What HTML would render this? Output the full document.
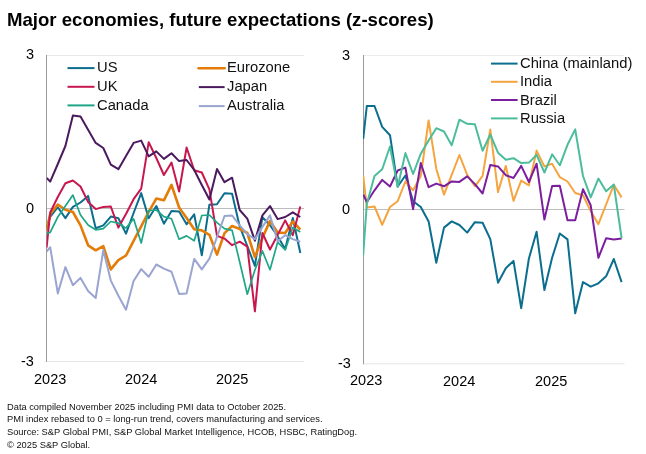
<!DOCTYPE html>
<html><head><meta charset="utf-8">
<style>
html,body{margin:0;padding:0;background:#fff;}
body{width:646px;height:454px;overflow:hidden;position:relative;font-family:"Liberation Sans",sans-serif;color:#000;}
.t{position:absolute;white-space:nowrap;line-height:1;will-change:transform;}
.tt{font-weight:bold;}
.ax{}
.lg{color:#111;}
.fn{color:#111;}
svg{position:absolute;left:0;top:0;}
</style></head><body>
<svg width="646" height="454" viewBox="0 0 646 454">
<defs>
<clipPath id="cl"><rect x="46.5" y="40" width="262" height="330"/></clipPath>
<clipPath id="cr"><rect x="363" y="40" width="262" height="330"/></clipPath>
</defs>
<g fill="none" stroke-linejoin="round" stroke-linecap="butt">
<line x1="46" y1="55.5" x2="304" y2="55.5" stroke="#e8e8e8" stroke-width="1"/>
<line x1="46" y1="208.5" x2="304" y2="208.5" stroke="#bdbdbd" stroke-width="1"/>
<line x1="46" y1="361.5" x2="304" y2="361.5" stroke="#e6e6e6" stroke-width="1"/>
<line x1="46.5" y1="55" x2="46.5" y2="362" stroke="#9a9a9a" stroke-width="1"/>
<line x1="363" y1="55.5" x2="624.5" y2="55.5" stroke="#ececec" stroke-width="1"/>
<line x1="363" y1="209.5" x2="624.5" y2="209.5" stroke="#bdbdbd" stroke-width="1"/>
<line x1="363" y1="363.8" x2="624.5" y2="363.8" stroke="#e6e6e6" stroke-width="1"/>
<line x1="363.5" y1="55" x2="363.5" y2="364.3" stroke="#9a9a9a" stroke-width="1"/>
<g clip-path="url(#cl)">
<polyline points="46.6,228.0 50.2,216.8 57.8,207.2 65.4,218.1 72.9,206.9 80.5,202.5 88.1,195.9 95.7,228.2 103.3,225.4 110.8,216.6 118.4,218.2 126.0,233.6 133.6,213.0 141.2,193.1 148.7,218.2 156.3,206.0 163.9,223.7 171.5,211.1 179.1,211.5 186.6,224.3 194.2,214.3 201.8,255.3 209.4,204.7 217.0,204.2 224.5,193.2 232.1,193.7 239.7,226.4 247.3,246.0 254.9,265.9 262.4,217.1 270.0,225.3 277.6,236.3 285.2,249.0 292.8,218.0 300.3,253.0" stroke="#0b6e8e" stroke-width="2.0"/>
<polyline points="46.6,230.4 50.2,214.0 57.8,204.5 65.4,209.8 72.9,212.0 80.5,225.4 88.1,245.3 95.7,250.3 103.3,246.2 110.8,269.4 118.4,260.1 126.0,255.5 133.6,240.8 141.2,226.3 148.7,211.8 156.3,198.6 163.9,200.3 171.5,184.9 179.1,207.5 186.6,218.0 194.2,229.3 201.8,230.4 209.4,234.8 217.0,254.6 224.5,233.1 232.1,226.0 239.7,229.0 247.3,233.0 254.9,257.0 262.4,238.0 270.0,220.9 277.6,232.5 285.2,233.0 292.8,221.5 300.3,229.7" stroke="#e47c08" stroke-width="2.6"/>
<polyline points="46.6,247.6 50.2,212.5 57.8,197.0 65.4,183.2 72.9,180.5 80.5,186.5 88.1,201.9 95.7,209.1 103.3,206.9 110.8,206.5 118.4,227.6 126.0,214.0 133.6,199.2 141.2,188.7 148.7,142.2 156.3,158.0 163.9,175.0 171.5,162.6 179.1,191.5 186.6,147.5 194.2,170.3 201.8,172.5 209.4,189.3 217.0,235.9 224.5,238.6 232.1,245.2 239.7,241.7 247.3,246.7 254.9,311.3 262.4,233.0 270.0,249.5 277.6,235.0 285.2,220.4 292.8,235.2 300.3,206.6" stroke="#c8174f" stroke-width="2.0"/>
<polyline points="46.8,178.0 50.2,181.6 57.8,164.0 65.4,146.0 72.9,115.5 80.5,116.6 88.1,129.7 95.7,142.9 103.3,148.0 110.8,164.6 118.4,169.2 126.0,156.0 133.6,142.9 141.2,140.6 148.7,156.4 156.3,151.4 163.9,158.9 171.5,153.2 179.1,161.1 186.6,160.0 194.2,170.0 201.8,185.0 209.4,199.5 217.0,168.9 224.5,182.2 232.1,177.7 239.7,210.0 247.3,218.7 254.9,240.7 262.4,215.4 270.0,206.1 277.6,219.1 285.2,217.0 292.8,212.3 300.3,217.0" stroke="#4b1a5e" stroke-width="2.0"/>
<polyline points="46.6,233.7 50.2,232.4 57.8,217.0 65.4,206.0 72.9,195.1 80.5,215.0 88.1,225.0 95.7,229.8 103.3,228.7 110.8,221.5 118.4,223.2 126.0,228.1 133.6,218.8 141.2,243.0 148.7,210.5 156.3,210.0 163.9,216.6 171.5,218.8 179.1,239.2 186.6,235.9 194.2,240.8 201.8,215.5 209.4,215.0 217.0,222.7 224.5,228.7 232.1,230.4 239.7,262.0 247.3,294.2 254.9,270.0 262.4,251.0 270.0,269.7 277.6,242.2 285.2,249.9 292.8,227.5 300.3,231.9" stroke="#1ea688" stroke-width="1.7"/>
<polyline points="46.6,251.5 50.2,247.2 57.8,293.4 65.4,267.1 72.9,285.2 80.5,277.9 88.1,291.1 95.7,298.0 103.3,250.1 110.8,280.6 118.4,295.7 126.0,309.7 133.6,281.0 141.2,269.1 148.7,276.8 156.3,264.5 163.9,268.6 171.5,271.7 179.1,293.9 186.6,293.4 194.2,258.9 201.8,269.4 209.4,258.6 217.0,237.0 224.5,216.0 232.1,215.5 239.7,225.4 247.3,234.1 254.9,239.1 262.4,227.0 270.0,215.4 277.6,241.3 285.2,235.2 292.8,239.1 300.3,241.8" stroke="#9aa4d0" stroke-width="2.0"/>
</g>
<g clip-path="url(#cr)">
<polyline points="363.2,139.0 366.8,106.0 374.5,106.0 382.2,126.9 390.0,135.2 397.7,186.5 405.4,175.5 413.1,201.2 420.8,207.0 428.6,221.4 436.3,262.8 444.0,227.6 451.7,221.4 459.4,225.0 467.2,232.6 474.9,222.2 482.6,222.8 490.3,239.1 498.0,282.7 505.8,268.2 513.5,260.9 521.2,308.2 528.9,258.5 536.6,231.8 544.4,290.1 552.1,257.8 559.8,233.5 567.5,239.4 575.2,313.3 583.0,282.1 590.7,286.7 598.4,283.3 606.1,276.3 613.8,259.0 621.6,282.1" stroke="#0b6e8e" stroke-width="2.0"/>
<polyline points="363.3,176.0 366.8,207.5 374.5,206.5 382.2,224.8 390.0,207.0 397.7,201.2 405.4,181.5 413.1,190.3 420.8,176.0 428.6,120.5 436.3,168.7 444.0,194.6 451.7,174.8 459.4,155.0 467.2,174.8 474.9,186.3 482.6,175.9 490.3,129.5 498.0,192.1 505.8,165.9 513.5,200.9 521.2,180.6 528.9,185.3 536.6,150.6 544.4,166.4 552.1,163.7 559.8,177.1 567.5,181.5 575.2,193.0 583.0,195.2 590.7,211.0 598.4,224.2 606.1,204.5 613.8,184.8 621.6,197.4" stroke="#f6a43f" stroke-width="2.0"/>
<polyline points="363.4,194.6 366.8,202.2 374.5,190.3 382.2,179.9 390.0,186.5 397.7,170.5 405.4,167.6 413.1,209.2 420.8,163.0 428.6,187.2 436.3,183.6 444.0,186.3 451.7,181.4 459.4,181.9 467.2,176.4 474.9,184.1 482.6,193.5 490.3,164.9 498.0,166.4 505.8,175.2 513.5,178.0 521.2,165.9 528.9,182.0 536.6,163.7 544.4,219.6 552.1,186.1 559.8,185.7 567.5,220.3 575.2,220.3 583.0,189.2 590.7,205.3 598.4,257.8 606.1,238.3 613.8,239.4 621.6,238.5" stroke="#7a1f9e" stroke-width="2.0"/>
<polyline points="363.2,255.3 366.8,204.0 374.5,176.0 382.2,169.2 390.0,146.5 397.7,187.0 405.4,153.1 413.1,174.0 420.8,153.7 428.6,140.5 436.3,128.2 444.0,131.5 451.7,145.2 459.4,119.7 467.2,123.8 474.9,124.3 482.6,150.7 490.3,134.5 498.0,152.7 505.8,159.8 513.5,158.2 521.2,163.1 528.9,162.6 536.6,154.9 544.4,172.5 552.1,154.3 559.8,165.3 567.5,144.8 575.2,129.4 583.0,176.0 590.7,197.4 598.4,178.6 606.1,191.2 613.8,184.6 621.6,238.0" stroke="#4cbd9c" stroke-width="2.0"/>
</g>
<line x1="67.5" y1="68.1" x2="94.5" y2="68.1" stroke="#0b6e8e" stroke-width="2"/>
<line x1="67.5" y1="86.8" x2="94.5" y2="86.8" stroke="#c8174f" stroke-width="2"/>
<line x1="67.5" y1="105.4" x2="94.5" y2="105.4" stroke="#1ea688" stroke-width="2"/>
<line x1="198.6" y1="68.2" x2="224.6" y2="68.2" stroke="#e47c08" stroke-width="2.6" stroke-linecap="round"/>
<line x1="198.8" y1="87.1" x2="224.6" y2="87.1" stroke="#4b1a5e" stroke-width="2"/>
<line x1="198.8" y1="106.1" x2="224.6" y2="106.1" stroke="#9aa4d0" stroke-width="2"/>
<line x1="491" y1="63.6" x2="517.6" y2="63.6" stroke="#0b6e8e" stroke-width="2"/>
<line x1="491" y1="81.8" x2="517.6" y2="81.8" stroke="#f6a43f" stroke-width="2"/>
<line x1="491" y1="100" x2="517.6" y2="100" stroke="#7a1f9e" stroke-width="2"/>
<line x1="491" y1="118.4" x2="517.6" y2="118.4" stroke="#4cbd9c" stroke-width="2"/>
</g>
</svg>
<div class="t ax" style="left:26.2px;top:47.33px;font-size:14.5px;">3</div>
<div class="t ax" style="left:26.2px;top:200.63px;font-size:14.5px;">0</div>
<div class="t ax" style="left:21px;top:353.73px;font-size:14.5px;">-3</div>
<div class="t ax" style="left:34.0px;top:372.13px;font-size:14.5px;">2023</div>
<div class="t ax" style="left:124.6px;top:372.23px;font-size:14.5px;">2024</div>
<div class="t ax" style="left:215.6px;top:372.23px;font-size:14.5px;">2025</div>
<div class="t ax" style="left:342.0px;top:47.53px;font-size:14.5px;">3</div>
<div class="t ax" style="left:342.0px;top:202.13px;font-size:14.5px;">0</div>
<div class="t ax" style="left:337.6px;top:356.33px;font-size:14.5px;">-3</div>
<div class="t ax" style="left:350.3px;top:373.03px;font-size:14.5px;">2023</div>
<div class="t ax" style="left:443.0px;top:373.53px;font-size:14.5px;">2024</div>
<div class="t ax" style="left:535.4px;top:373.53px;font-size:14.5px;">2025</div>
<div class="t lg" style="left:96.8px;top:60.11px;font-size:14.75px;">US</div>
<div class="t lg" style="left:96.8px;top:79.11px;font-size:14.75px;">UK</div>
<div class="t lg" style="left:96.8px;top:98.21px;font-size:14.75px;">Canada</div>
<div class="t lg" style="left:227.0px;top:60.11px;font-size:14.75px;">Eurozone</div>
<div class="t lg" style="left:227.0px;top:79.11px;font-size:14.75px;">Japan</div>
<div class="t lg" style="left:227.0px;top:98.21px;font-size:14.75px;">Australia</div>
<div class="t lg" style="left:520.0px;top:56.11px;font-size:14.75px;">China (mainland)</div>
<div class="t lg" style="left:520.2px;top:74.31px;font-size:14.75px;">India</div>
<div class="t lg" style="left:520.2px;top:92.51px;font-size:14.75px;">Brazil</div>
<div class="t lg" style="left:520.2px;top:111.11px;font-size:14.75px;">Russia</div>
<div class="t fn" style="left:7.0px;top:402.73px;font-size:9.3px;">Data compiled November 2025 including PMI data to October 2025.</div>
<div class="t fn" style="left:7.0px;top:415.03px;font-size:9.3px;">PMI index rebased to 0 = long-run trend, covers manufacturing and services.</div>
<div class="t fn" style="left:7.0px;top:428.13px;font-size:9.3px;">Source: S&amp;P Global PMI, S&amp;P Global Market Intelligence, HCOB, HSBC, RatingDog.</div>
<div class="t fn" style="left:7.0px;top:441.43px;font-size:9.3px;">&copy; 2025 S&amp;P Global.</div>
<div class="t tt" style="left:6.8px;top:10.56px;font-size:18.6px;">Major economies, future expectations (z-scores)</div>
</body></html>
